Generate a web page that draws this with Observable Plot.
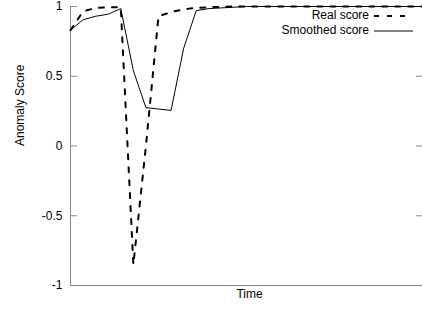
<!DOCTYPE html>
<html>
<head>
<meta charset="utf-8">
<script src="https://cdn.jsdelivr.net/npm/d3@7"></script>
<script src="https://cdn.jsdelivr.net/npm/@observablehq/plot@0.6"></script>
<style>
  html, body { margin: 0; padding: 0; background: #fff; }
  #wrap { position: relative; width: 422px; height: 309px; font-family: "Liberation Sans", Arial, sans-serif; }
  #legend { position: absolute; right: 0; top: 8px; font-size: 12px; line-height: 15px; color: #000; }
  #legend .row { display: flex; align-items: center; justify-content: flex-end; }
  #legend svg { margin-left: 5px; margin-right: 9px; }
</style>
</head>
<body>
<div id="wrap"><div id="legend"></div></div>
<script>
// Time index for each sample
const time = d3.range(29);
// Real (raw) anomaly score
const realScore = [0.83, 0.965, 0.99, 0.995, 0.995, -0.85, 0.0, 0.93, 0.96, 0.98, 0.99, 0.995, 0.997, 1, 1, 1, 1, 1, 1, 1, 1, 1, 1, 1, 1, 1, 1, 1, 1];
// Smoothed anomaly score
const smoothedScore = [0.83, 0.905, 0.93, 0.945, 0.985, 0.54, 0.275, 0.265, 0.255, 0.70, 0.97, 0.985, 0.99, 0.995, 1, 1, 1, 1, 1, 1, 1, 1, 1, 1, 1, 1, 1, 1, 1];
const yTicks = [-1, -0.5, 0, 0.5, 1];
const seriesNames = ["Real score", "Smoothed score"];

const real = time.map((t, i) => ({t, v: realScore[i]}));
const smooth = time.map((t, i) => ({t, v: smoothedScore[i]}));

const axisColor = "#888";
const dashPattern = "5,8";
const chart = Plot.plot({
  width: 422,
  height: 309,
  marginLeft: 70,
  marginRight: 0,
  marginTop: 6,
  marginBottom: 24,
  style: {fontFamily: "'Liberation Sans', Arial, sans-serif", fontSize: "12px", background: "#fff", color: "#000"},
  x: {domain: [0, 28], axis: null},
  y: {domain: [-1, 1], axis: null},
  marks: [
    Plot.axisY(yTicks, {tickSize: 0, tickPadding: 8, tickFormat: d => String(d), label: null, fontSize: 12}),
    Plot.axisY(yTicks, {tickSize: -7, text: null, stroke: axisColor, label: null}),
    Plot.axisY(yTicks, {anchor: "right", tickSize: -7, text: null, stroke: axisColor, label: null}),
    Plot.ruleX([0], {stroke: axisColor}),
    Plot.ruleY([-1], {stroke: axisColor}),
    Plot.line(smooth, {x: "t", y: "v", stroke: "#000", strokeWidth: 1}),
    Plot.line(real, {x: "t", y: "v", stroke: "#000", strokeWidth: 2, strokeDasharray: dashPattern}),
    Plot.text(["Anomaly Score"], {frameAnchor: "left", dx: -50, rotate: -90, text: d => d, fontSize: 12}),
    Plot.text(["Time"], {frameAnchor: "bottom", dy: 12, dx: 3, text: d => d, fontSize: 12})
  ]
});
const wrap = document.getElementById("wrap");
wrap.insertBefore(chart, wrap.firstChild);

const legend = document.getElementById("legend");
const dashes = [dashPattern, null];
const widths = [2, 1];
seriesNames.forEach((name, i) => {
  const row = document.createElement("div");
  row.className = "row";
  const span = document.createElement("span");
  span.textContent = name;
  row.appendChild(span);
  const svg = d3.create("svg").attr("width", 39).attr("height", 10);
  svg.append("line").attr("x1", 0).attr("x2", 39).attr("y1", 5).attr("y2", 5)
    .attr("stroke", "#000").attr("stroke-width", widths[i])
    .attr("stroke-dasharray", dashes[i]);
  row.appendChild(svg.node());
  legend.appendChild(row);
});
</script>
</body>
</html>
